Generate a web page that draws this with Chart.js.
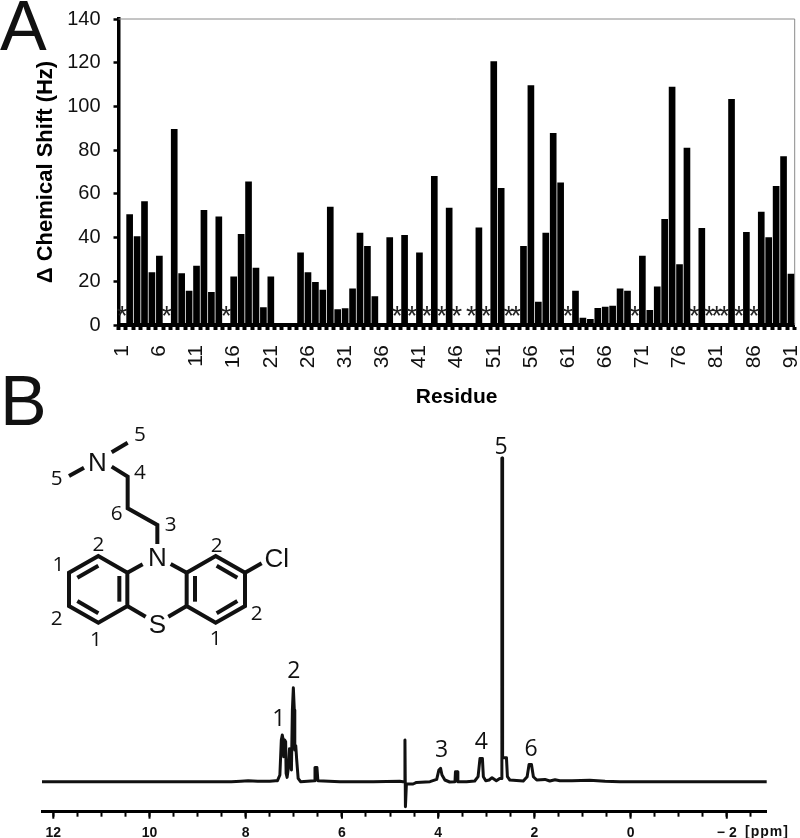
<!DOCTYPE html>
<html><head><meta charset="utf-8">
<script src="https://cdn.jsdelivr.net/npm/chart.js@4"></script>
<style>
html,body{margin:0;padding:0;background:#fff;width:800px;height:838px;overflow:hidden;position:relative}
canvas{position:absolute;left:0}
#chartA{top:0}
#chartB{top:420px}
.panel{position:absolute;font:70px/70px "Liberation Sans",sans-serif;color:#111}
#mol{position:absolute;left:0;top:400px}
#mol line,#mol polyline,#mol polygon{stroke:#111;stroke-width:12;fill:none;stroke-linejoin:miter}
#mol text{fill:#111;text-anchor:middle;dominant-baseline:central}
#mol .a{font:78px "Liberation Sans",sans-serif}
#mol .n{font:62px "Open Sans",sans-serif}
</style></head><body>
<canvas id="chartA" width="800" height="412"></canvas>
<canvas id="chartB" width="800" height="418"></canvas>
<div class="panel" style="left:0;top:-9px">A</div>
<div class="panel" style="left:0;top:366px">B</div>
<svg id="mol" width="300" height="260" viewBox="0 0 900 780">
<polygon points="295,468 207,518 207,618 295,668 382,618 382,518"/>
<polygon points="647,468 735,518 735,618 647,668 560,618 560,518"/>
<line x1="232" y1="533" x2="295" y2="497"/><line x1="358" y1="528" x2="358" y2="605"/><line x1="232" y1="603" x2="295" y2="640"/>
<line x1="650" y1="497" x2="712" y2="533"/><line x1="712" y1="603" x2="650" y2="640"/><line x1="585" y1="528" x2="585" y2="605"/>
<line x1="382" y1="518" x2="428" y2="493"/><line x1="560" y1="518" x2="512" y2="492"/>
<line x1="382" y1="618" x2="437" y2="650"/><line x1="560" y1="618" x2="505" y2="650"/>
<line x1="735" y1="518" x2="785" y2="490"/>
<polyline points="472,432 472,375 383,325 383,230 335,200"/>
<line x1="335" y1="157" x2="383" y2="128"/><line x1="252" y1="203" x2="207" y2="228"/>
<text class="a" x="472" y="472">N</text><text class="a" x="472" y="672">S</text>
<text class="a" x="292" y="185">N</text><text class="a" x="830" y="475">Cl</text>
<text class="n" x="420" y="100">5</text><text class="n" x="170" y="230">5</text><text class="n" x="420" y="212">4</text>
<text class="n" x="350" y="335">6</text><text class="n" x="512" y="368">3</text><text class="n" x="295" y="428">2</text>
<text class="n" x="650" y="432">2</text><text class="n" x="175" y="490">1</text><text class="n" x="170" y="650">2</text>
<text class="n" x="288" y="715">1</text><text class="n" x="647" y="710">1</text><text class="n" x="770" y="635">2</text>
</svg>
<script>
const residues = Array.from({length:91},(_,i)=>String(i+1));
const shifts = [0,50.5,40.5,56.5,24,31.5,0,89.5,23.5,15.5,27,52.5,15,49.5,0,22,41.5,65.5,26,8,22,0,0,0,33,24,19.5,16,54,7,7.5,16.5,42,36,13,0,40,0,41,0,33,0,68,0,53.5,0,0,0,44.5,0,120.5,62.5,0,0,36,109.5,10.5,42,87.7,65,0,15.5,3.2,2.6,7.6,8.2,8.7,16.5,15.5,0,31.5,6.7,17.5,48.3,108.8,27.7,81,0,44.2,0,0,0,103.3,0,42.4,0,51.7,40,63.4,77,23.3];
const starResidues = [1,7,15,38,40,42,44,46,48,50,53,54,61,70,78,80,81,82,84,86];
const starHeight = 3.4;
const yTicksA = [0,20,40,60,80,100,120,140];

const ppm = [12.235,11,10,9,8.3,8.1,7.95,7.75,7.5,7.38,7.34,7.29,7.26,7.24,7.22,7.21,7.19,7.17,7.16,7.14,7.11,7.09,7.07,7.05,7.03,7.01,6.99,6.98,6.96,6.94,6.91,6.86,6.57,6.56,6.52,6.50,6.04,5.35,4.80,4.73,4.70,4.69,4.68,4.66,4.52,4.45,4.17,4.03,3.985,3.95,3.92,3.86,3.76,3.65,3.64,3.60,3.59,3.41,3.24,3.17,3.13,3.08,3.06,3.01,2.94,2.88,2.79,2.72,2.68,2.675,2.665,2.66,2.63,2.58,2.56,2.51,2.23,2.15,2.11,2.06,2.02,1.95,1.78,1.68,1.57,1.47,1.22,0.85,0.53,0.22,-1,-2.83];
const intensity = [0,0,0,0,0,0.5,1,0.5,0.5,1,1,6.7,41.7,46.7,41.7,25,41.7,40,8.3,4.3,15,33,31.7,11.7,71.7,94,71.7,31.7,36,21.7,3.3,0,1,14.3,14.3,1,0,0,0.5,0,0,41.7,-25,-2.3,-2.3,-0.7,0,2.3,11.7,13.3,6.7,1.7,-0.3,0,10,10,0,0,0.7,5,23.3,23.3,5,1,1.7,4,1,3.3,3.3,323.7,323.7,24,24,24,5,1.7,0.7,5,17.3,17.3,5,1.7,2.3,0.7,2,1,1,1.5,0.5,0,0,0];
const peakLabels = ["1","2","3","4","5","6"];
const peakLabelPpm = [7.31,7.0,3.93,3.10,2.69,2.07];
const peakLabelHeight = [62.7,110,31,39.7,334.7,32.7];
const ppmMajor = [12,10,8,6,4,2,0,-2];

const frameAndStars = {id:'frameAndStars',
  beforeDatasetsDraw(c){const a=c.chartArea,x=c.ctx;x.save();x.strokeStyle='#8a8a8a';x.lineWidth=1;
    x.beginPath();x.moveTo(a.left,a.top);x.lineTo(a.right,a.top);x.lineTo(a.right,a.bottom);x.stroke();x.restore();},
  afterDatasetsDraw(c){const x=c.ctx,sx=c.scales.x,sy=c.scales.y;x.save();x.fillStyle='#222';x.font='28px "Liberation Sans",sans-serif';
    x.textAlign='center';x.textBaseline='middle';
    starResidues.forEach(r=>x.fillText('*',sx.getPixelForValue(r-1),sy.getPixelForValue(starHeight)));x.restore();}};

new Chart(document.getElementById('chartA'),{type:'bar',plugins:[frameAndStars],
 data:{labels:residues,datasets:[{data:shifts,backgroundColor:'#000',barThickness:6,borderWidth:0}]},
 options:{responsive:false,animation:false,layout:{padding:{top:19,right:5.3,left:0,bottom:0}},
  plugins:{legend:{display:false},tooltip:{enabled:false}},
  scales:{
   x:{offset:true,grid:{drawOnChartArea:false,tickLength:5,tickWidth:4,tickColor:'#000',offset:true},border:{color:'#000',width:4},
      ticks:{autoSkip:false,minRotation:90,maxRotation:90,padding:15,color:'#111',font:{family:'"Liberation Sans"',size:21},
        callback:(v,i)=>i%5===0?residues[i]:''},
      title:{display:true,text:'Residue',color:'#000',font:{family:'"Liberation Sans"',size:21,weight:'bold'},padding:{top:0,bottom:2}},
      afterFit:s=>{s.height=87;s.paddingLeft=0;s.paddingRight=0}},
   y:{min:0,max:140,afterBuildTicks:s=>{s.ticks=yTicksA.map(v=>({value:v}))},
      grid:{drawOnChartArea:false,tickLength:5,tickWidth:2.5,tickColor:'#000'},border:{color:'#000',width:3.5},
      ticks:{padding:13,color:'#111',font:{family:'"Liberation Sans"',size:20}},
      title:{display:true,text:'Δ Chemical Shift (Hz)',color:'#000',font:{family:'"Liberation Sans"',size:22,weight:'bold'},padding:{top:33,bottom:0}},
      afterFit:s=>{s.width=118.5;s.paddingTop=0;s.paddingBottom=0}}
  }}});

const specExtras = {id:'specExtras',
  afterDraw(c){const x=c.ctx,sx=c.scales.x,sy=c.scales.y,b=c.chartArea.bottom;x.save();
    x.strokeStyle='#000';x.lineWidth=2;
    ppmMajor.forEach(p=>{const px=sx.getPixelForValue(p);x.beginPath();x.moveTo(px,b);x.lineTo(px,b+7);x.stroke();});
    x.fillStyle='#111';x.font='23px "Open Sans",sans-serif';x.textAlign='center';x.textBaseline='middle';
    peakLabels.forEach((t,i)=>x.fillText(t,sx.getPixelForValue(peakLabelPpm[i]),sy.getPixelForValue(peakLabelHeight[i])));
    x.font='bold 14px "Liberation Sans",sans-serif';x.letterSpacing='1px';x.textAlign='left';
    x.fillText('[ppm]',745,412);x.restore();}};

new Chart(document.getElementById('chartB'),{type:'line',plugins:[specExtras],
 data:{datasets:[{data:ppm.map((p,i)=>({x:p,y:intensity[i]})),borderColor:'#111',borderWidth:3,pointRadius:0,tension:0,borderJoinStyle:'round',fill:false,clip:false}]},
 options:{responsive:false,animation:false,layout:{padding:{top:20,left:42,right:33.3,bottom:0}},
  plugins:{legend:{display:false},tooltip:{enabled:false}},
  scales:{
   x:{type:'linear',reverse:true,min:-2.83,max:12.235,
      grid:{drawOnChartArea:false,tickLength:5,tickWidth:2,tickColor:'#000'},border:{color:'#000',width:3},
      ticks:{stepSize:0.5,includeBounds:false,autoSkip:false,maxRotation:0,padding:8,color:'#111',font:{family:'"Liberation Sans"',size:14,weight:'bold'},
        callback:v=>ppmMajor.includes(v)?(v<0?'− '+Math.abs(v):String(v)):''},
      afterFit:s=>{s.height=26.3;s.paddingLeft=0;s.paddingRight=0}},
   y:{display:false,min:-30,max:341.7}
  }}});
</script>
</body></html>
